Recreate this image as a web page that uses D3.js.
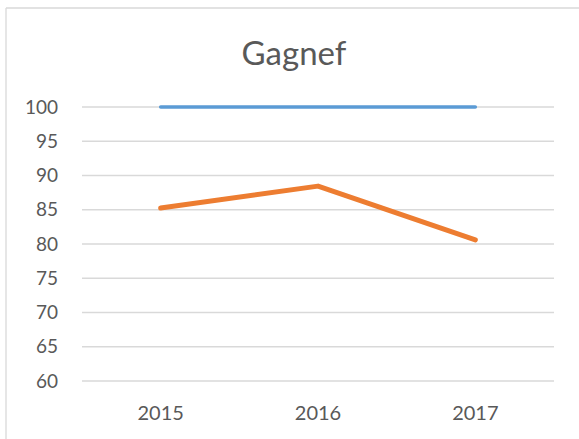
<!DOCTYPE html>
<html>
<head>
<meta charset="utf-8">
<script src="https://cdn.jsdelivr.net/npm/d3@7"></script>
<style>
  body { margin: 0; background: #fff; }
  text { font-family: Lato, "Liberation Sans", sans-serif; fill: #595959; }
</style>
</head>
<body>
<svg id="chart" width="579" height="439"></svg>
<script>
var years = ["2015", "2016", "2017"];
var blueValues = [100, 100, 100];
var orangeValues = [85.25, 88.45, 80.6];
var yTicks = [60, 65, 70, 75, 80, 85, 90, 95, 100];

var svg = d3.select("#chart");

// chart frame (only left and top edges fall inside the picture)
svg.append("line").attr("x1", 6).attr("x2", 6).attr("y1", 8).attr("y2", 439)
    .attr("stroke", "#d9d9d9").attr("stroke-width", 1.3);
svg.append("line").attr("x1", 6).attr("x2", 579).attr("y1", 8).attr("y2", 8)
    .attr("stroke", "#d9d9d9").attr("stroke-width", 1.3);

var x = d3.scaleBand().domain(years).range([82, 554]);
var y = d3.scaleLinear().domain([60, 100]).range([381, 107]);

svg.append("text")
    .attr("x", 294).attr("y", 65)
    .attr("text-anchor", "middle")
    .style("font-size", "33px")
    .text("Gagnef");

// gridlines
svg.append("g").selectAll("line")
    .data(yTicks)
    .enter().append("line")
    .attr("x1", x.range()[0]).attr("x2", x.range()[1])
    .attr("y1", function (d) { return y(d); })
    .attr("y2", function (d) { return y(d); })
    .attr("stroke", "#d9d9d9").attr("stroke-width", 1.4);

var yAxis = svg.append("g")
    .attr("transform", "translate(58,0)")
    .call(d3.axisLeft(y).tickValues(yTicks).tickSize(0).tickPadding(0));
yAxis.select(".domain").remove();
yAxis.selectAll("text").style("font-size", "19px").attr("x", 0);

var xAxis = svg.append("g")
    .attr("transform", "translate(0,406)")
    .call(d3.axisBottom(x).tickSize(0).tickPadding(0));
xAxis.select(".domain").remove();
xAxis.selectAll("text").style("font-size", "20px").attr("dy", "0.71em");

var line = d3.line()
    .x(function (d, i) { return x(years[i]) + x.bandwidth() / 2; })
    .y(function (d) { return y(d); });

svg.append("path").datum(blueValues)
    .attr("d", line).attr("fill", "none")
    .attr("stroke", "#5b9bd5").attr("stroke-width", 3.5)
    .attr("stroke-linecap", "round");

svg.append("path").datum(orangeValues)
    .attr("d", line).attr("fill", "none")
    .attr("stroke", "#ed7d31").attr("stroke-width", 5)
    .attr("stroke-linecap", "round").attr("stroke-linejoin", "round");
</script>
</body>
</html>
